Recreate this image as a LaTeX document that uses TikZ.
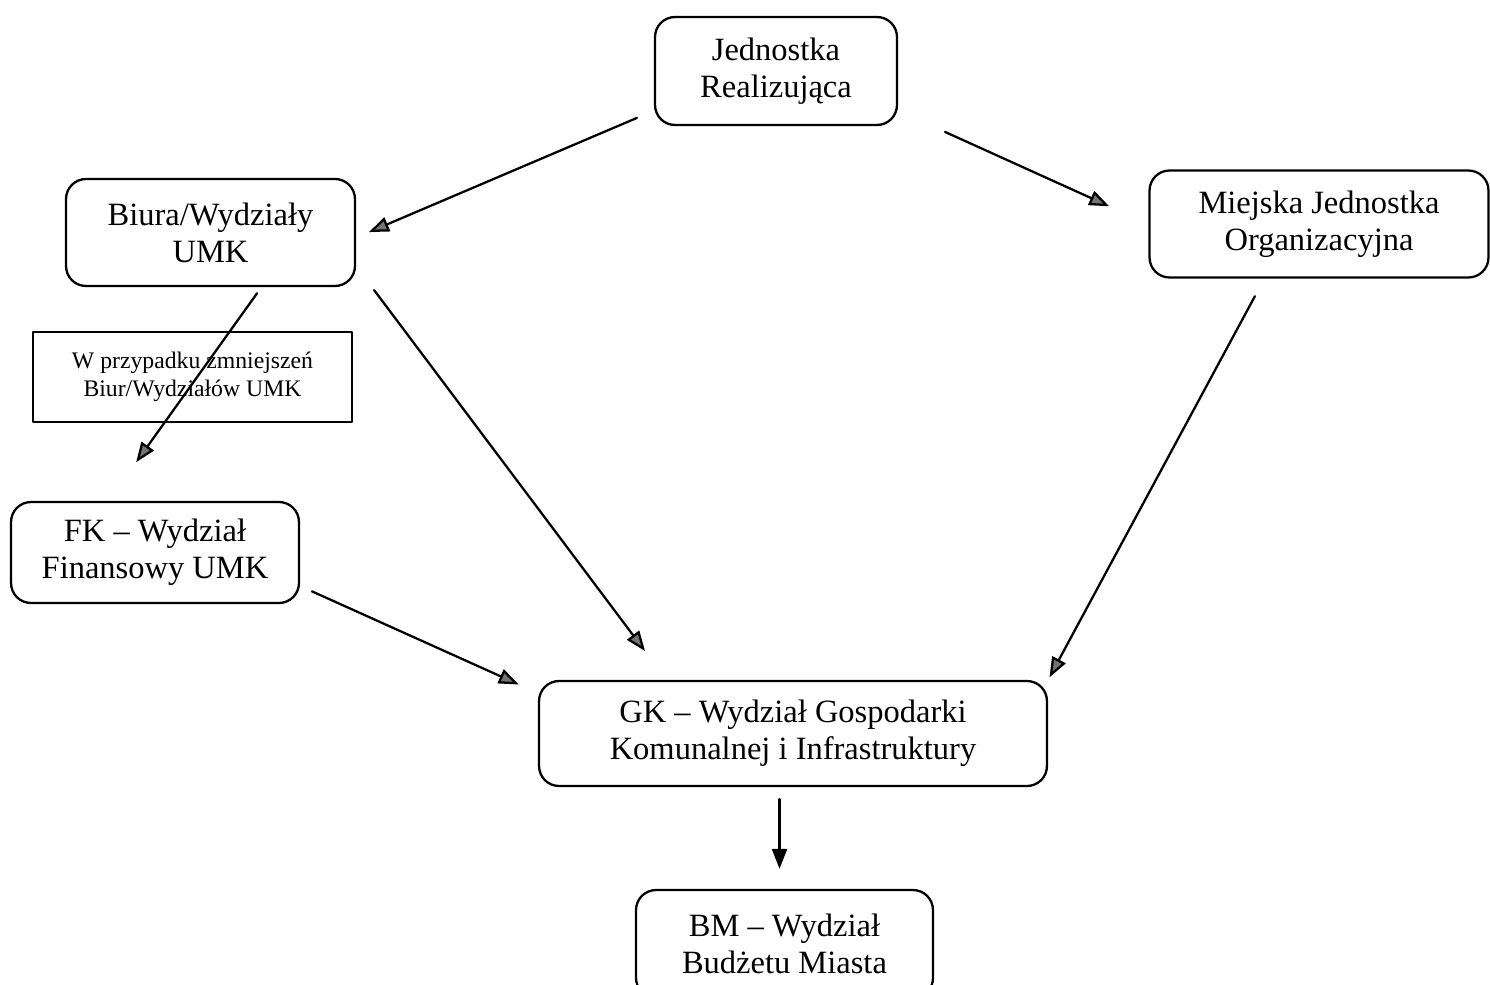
\documentclass[tikz,border=0pt]{standalone}
\usepackage{fontspec}
\setmainfont{Liberation Serif}
\usetikzlibrary{arrows.meta}
\begin{document}
\begin{tikzpicture}[
		x=0.02cm, y=-0.02cm,
		>={Triangle[length=0.4cm,width=0.3cm,fill=black!55]},
		line width=1.3pt,
		line cap=round,
		line join=round,
		unit/.style={draw, rounded corners=0.4cm, align=center, inner sep=0pt,
			font=\fontsize{18.5}{21}\selectfont},
		remark/.style={draw, align=center, inner sep=0pt,
			font=\fontsize{13.5}{16}\selectfont}
		]
		\useasboundingbox (0,0) rectangle (1490,984);
		% jednostki
		\node[unit, minimum width=4.84cm, minimum height=2.16cm] (jr) at (776,71) {Jednostka\\Realizująca};
		\node[unit, minimum width=5.78cm, minimum height=2.14cm] (biura) at (210.5,232.5) {Biura/Wydziały\\UMK};
		\node[unit, minimum width=6.78cm, minimum height=2.14cm] (mjo) at (1319,224) {Miejska Jednostka\\Organizacyjna};
		\node[remark, minimum width=6.38cm, minimum height=1.8cm] (uwaga) at (192.5,377) {W przypadku zmniejszeń\\Biur/Wydziałów UMK};
		\node[unit, minimum width=5.76cm, minimum height=2.02cm] (fk) at (155,552.5) {FK -- Wydział\\Finansowy UMK};
		\node[unit, minimum width=10.16cm, minimum height=2.1cm] (gk) at (793,733.5) {GK -- Wydział Gospodarki\\Komunalnej i Infrastruktury};
		\node[unit, minimum width=5.94cm, minimum height=2.16cm] (bm) at (784.5,944) {BM -- Wydział\\Budżetu Miasta};
		% przeplyw
		\begin{scope}[->]
		\draw[shorten <=0.37cm, shorten >=0.28cm] (jr.198) -- (biura.-2);
		\draw[shorten <=1.03cm, shorten >=0.86cm] (jr.-18) -- (mjo.west);
		\draw[shorten <=0.15cm, shorten >=0.95cm] (biura.-47) -- (fk.132);
		\draw[shorten <=0.6cm, shorten >=0.72cm] (biura.-13) -- (gk.157);
		\draw[shorten <=0.4cm, shorten >=0.06cm] (mjo.-135) -- (gk.north east);
		\draw[shorten <=0.26cm, shorten >=0.42cm] (fk.-13) -- (gk.171);
		\draw[-{Triangle[length=0.4cm,width=0.3cm]}, shorten <=0.24cm, shorten >=0.4cm] ([xshift=-0.1cm]gk.south -| bm.north) -- ([xshift=-0.1cm]bm.north);
		\end{scope}
		\end{tikzpicture}
\end{document}
